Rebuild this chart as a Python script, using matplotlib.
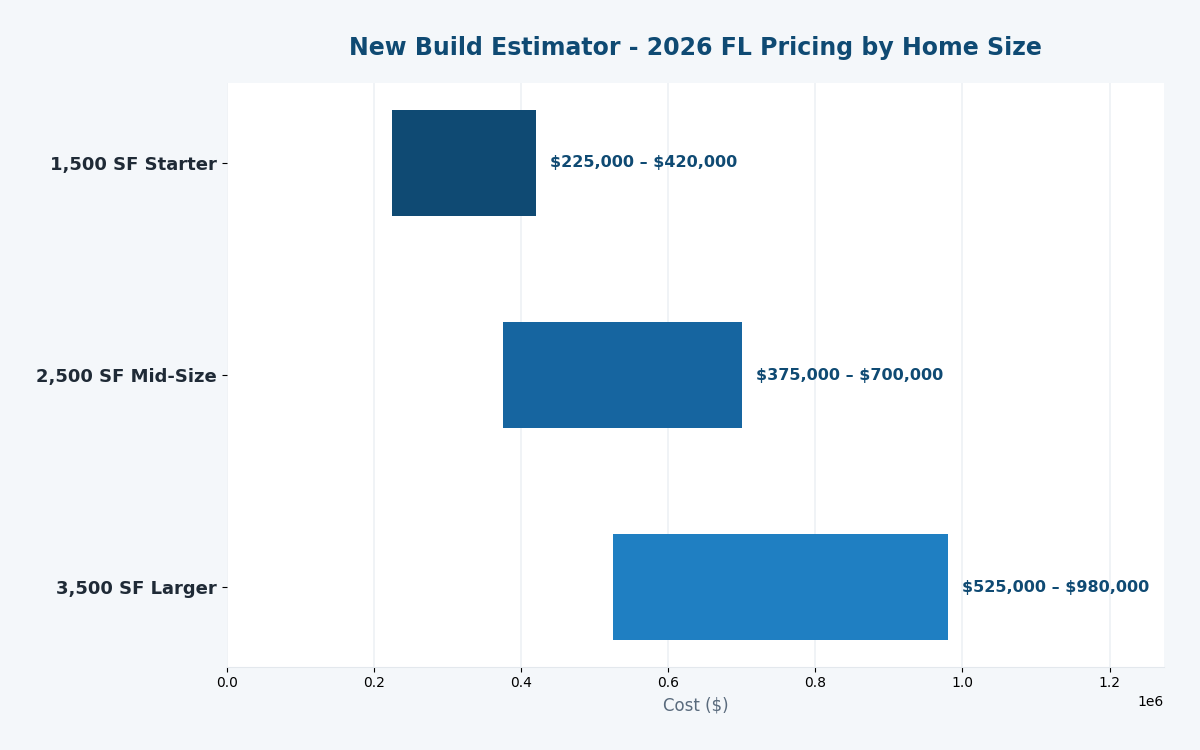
import matplotlib
matplotlib.use("Agg")
import matplotlib.pyplot as plt

# dados do grafico
categorias = ["1,500 SF Starter", "2,500 SF Mid-Size", "3,500 SF Larger"]
custo_min = [225000, 375000, 525000]
custo_max = [420000, 700000, 980000]
cores = ["#0f4a73", "#1665a0", "#1f7fc2"]

fig, ax = plt.subplots(figsize=(12, 7.5), dpi=100)
fig.patch.set_facecolor("#f4f7fa")
ax.set_facecolor("white")

larguras = [mx - mn for mn, mx in zip(custo_min, custo_max)]
ax.barh(categorias, larguras, left=custo_min, height=0.5, color=cores, zorder=2)

# rotulos com a faixa de preco (cifrao escapado por causa do mathtext)
for i, (mn, mx) in enumerate(zip(custo_min, custo_max)):
    ax.text(mx + 20000, i, f"\\${mn:,} \u2013 \\${mx:,}", va="center", ha="left",
            fontsize=11.5, fontweight="bold", color="#0f4a73")

ax.invert_yaxis()
ax.set_xlim(0, max(custo_max) * 1.3)
ax.grid(axis="x", color="#edf1f5", linewidth=1.2, zorder=0)
ax.set_axisbelow(True)

for lado in ["top", "right", "left"]:
    ax.spines[lado].set_visible(False)
ax.spines["bottom"].set_color("#e3e8ed")

ax.set_title("New Build Estimator - 2026 FL Pricing by Home Size", fontsize=17,
             fontweight="bold", color="#0f4a73", pad=20)
ax.set_xlabel("Cost ($)", fontsize=12, color="#5a6b7d")
ax.tick_params(axis="y", labelsize=13)
for t in ax.get_yticklabels():
    t.set_fontweight("bold")
    t.set_color("#1f2a36")
ax.tick_params(axis="x", labelsize=10)

plt.subplots_adjust(left=0.189, right=0.97, top=0.889, bottom=0.111)
plt.savefig("out.png", dpi=100, facecolor=fig.get_facecolor())
